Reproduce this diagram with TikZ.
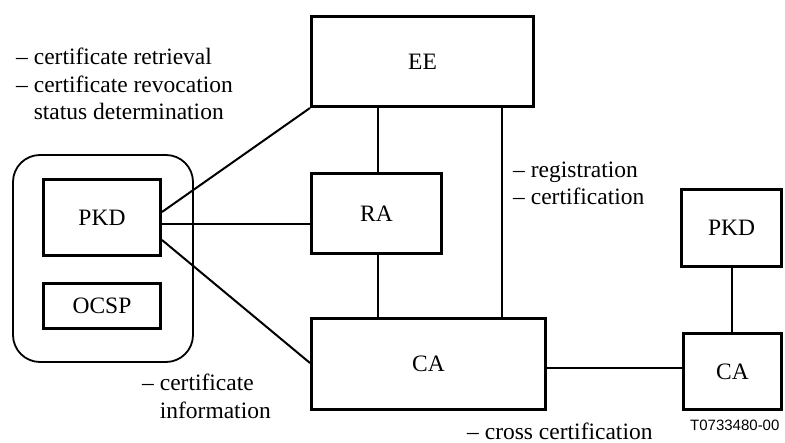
\documentclass[tikz,border=0pt]{standalone}
\usepackage{fontspec}
\setmainfont{Liberation Serif}
\newfontfamily\labsans{Liberation Sans}
\begin{document}
\begin{tikzpicture}[x=1pt,y=-1pt,
  box/.style={draw,line width=3pt,inner sep=0pt,font=\fontsize{23.5}{27.5}\selectfont},
  conn/.style={line width=2pt},
  grp/.style={draw,line width=1.8pt,rounded corners=27pt,inner sep=0pt},
  lbl/.style={inner sep=0pt,anchor=west,align=left,font=\fontsize{23.5}{27.5}\selectfont}]
\useasboundingbox (0,0) rectangle (785,443);
% group
\node[grp,minimum width=180pt,minimum height=207pt] (grp) at (103,258.5) {};
% boxes
\node[box,minimum width=222pt,minimum height=90pt] (EE) at (422.5,61.5) {EE};
\node[box,minimum width=130pt,minimum height=80pt] (RA) at (376.5,213.5) {RA};
\node[box,minimum width=117pt,minimum height=76pt] (PKDL) at (102,217.5) {PKD};
\node[box,minimum width=117pt,minimum height=45pt] (OCSP) at (102,306) {OCSP};
\node[box,minimum width=234pt,minimum height=91pt] (CA) at (428.5,364) {CA};
\node[box,minimum width=100pt,minimum height=77pt] (PKDR) at (731.5,228) {PKD};
\node[box,minimum width=98pt,minimum height=76pt] (CAR) at (732.5,371.5) {CA};
% connectors
\draw[conn] ([yshift=5.5pt]PKDL.east) -- (EE.south west);
\draw[conn] ([yshift=-6.5pt]PKDL.east) -- ([yshift=-6.5pt]PKDL.east -| RA.west);
\draw[conn] ([yshift=-22.5pt]PKDL.east) -- ([yshift=1pt]CA.west);
\draw[conn] ([xshift=1.5pt]RA.north) -- ([xshift=1.5pt]RA.north |- EE.south);
\draw[conn] ([xshift=1.5pt]RA.south) -- ([xshift=1.5pt]RA.south |- CA.north);
\draw[conn] ([xshift=79.5pt]EE.south) -- ([xshift=79.5pt]EE.south |- CA.north);
\draw[conn] (PKDR.south) -- (PKDR.south |- CAR.north);
\draw[conn] ([yshift=-4pt]CA.east) -- ([yshift=-4pt]CA.east -| CAR.west);
% labels
\node[lbl] (l1) at (16,84) {– certificate retrieval\\– certificate revocation\\\hphantom{– }status determination};
\node[lbl] (l2) at (513,183.5) {– registration\\– certification};
\node[lbl] (l3) at (142,396.5) {– certificate\\\hphantom{– }information};
\node[lbl] (l4) at (467,431) {– cross certification};
\node[inner sep=0pt,anchor=west,font=\labsans\fontsize{15}{18}\selectfont] (tag) at (690,425) {T0733480-00};
\end{tikzpicture}
\end{document}
